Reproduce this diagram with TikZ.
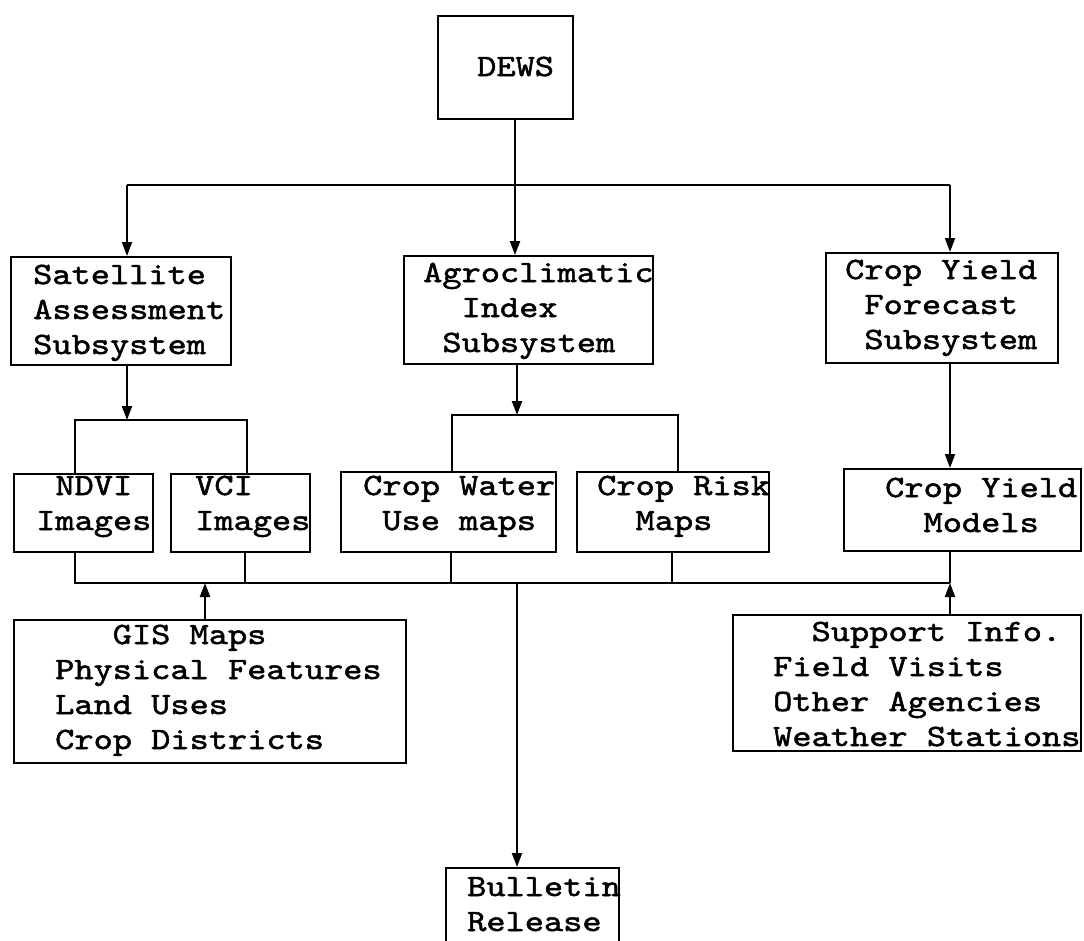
\documentclass[tikz,border=0pt]{standalone}
\usepackage{fontspec}
\newfontfamily\cour{lmmono10-regular.otf}[FakeStretch=1.18, BoldFont=lmmono10-regular.otf, BoldFeatures={FakeBold=1.6}]
\usetikzlibrary{arrows.meta}
\newcommand\sk[1]{\hspace*{#1\dimexpr 19.2pt\relax}}
\newcommand\tlines[1]{\begin{tabular}[t]{@{}l@{}}#1\end{tabular}}
\tikzset{
  box/.style={draw, line width=2.3pt, inner sep=0pt, anchor=north west},
  txt/.style={anchor=base west, inner sep=0pt, font=\cour\bfseries\fontsize{31}{35}\selectfont},
  ln/.style={line width=2.1pt},
  arr/.style={ln, -{Triangle[length=14pt,width=10pt]}},
}
\begin{document}
\begin{tikzpicture}[x=1pt,y=-1pt]
\useasboundingbox (0,0) rectangle (1084,940);
\clip (0,0) rectangle (1084,940);
% boxes
\node[box,minimum width=135pt,minimum height=103pt] (dews) at (437,15) {};
\node[box,minimum width=220pt,minimum height=108pt] (sat) at (10,256) {};
\node[box,minimum width=249pt,minimum height=108pt] (agro) at (403,255) {};
\node[box,minimum width=232pt,minimum height=110pt] (cyf) at (825,252) {};
\node[box,minimum width=139pt,minimum height=78pt] (ndvi) at (13,473) {};
\node[box,minimum width=139pt,minimum height=78pt] (vci) at (170,473) {};
\node[box,minimum width=215pt,minimum height=80pt] (cw) at (340,471) {};
\node[box,minimum width=192pt,minimum height=80pt] (cr) at (576,471) {};
\node[box,minimum width=237pt,minimum height=82pt] (cym) at (843,468) {};
\node[box,minimum width=392pt,minimum height=143pt] (gis) at (13,619) {};
\node[box,minimum width=348pt,minimum height=136pt] (sup) at (732,614) {};
\node[box,minimum width=173pt,minimum height=100pt] (bul) at (445,867) {};
% texts
\node[txt] (dewsT) at (477,76) {DEWS};
\node[txt] (satT) at (33,284) {\tlines{Satellite\\Assessment\\Subsystem}};
\node[txt] (agroT) at (423,282) {\tlines{Agroclimatic\\\sk{2}Index\\\sk{1}Subsystem}};
\node[txt] (cyfT) at (845,279) {\tlines{Crop Yield\\\sk{1}Forecast\\\sk{1}Subsystem}};
\node[txt] (ndviT) at (36,495) {\tlines{\sk{1}NDVI\\Images}};
\node[txt] (vciT) at (195,495) {\tlines{VCI\\Images}};
\node[txt] (cwT) at (363,495) {\tlines{Crop Water\\\sk{1}Use maps}};
\node[txt] (crT) at (597,495) {\tlines{Crop Risk\\\sk{2}Maps}};
\node[txt] (cymT) at (885,497) {\tlines{Crop Yield\\\sk{2}Models}};
\node[txt] (gisT) at (55,644) {\tlines{\sk{3}GIS Maps\\Physical Features\\Land Uses\\Crop Districts}};
\node[txt] (supT) at (773,641) {\tlines{\sk{2}Support Info.\\Field Visits\\Other Agencies\\Weather Stations}};
\node[txt] (bulT) at (467,896) {\tlines{Bulletin\\Release}};
% junction coordinates
\coordinate (t0) at (515,185);
\coordinate (t1) at (127,185);
\coordinate (t3) at (950,185);
\coordinate (s0) at (127,420);
\coordinate (s1) at (75,420);
\coordinate (s2) at (247,420);
\coordinate (a0) at (517,415);
\coordinate (a1) at (452,415);
\coordinate (a2) at (678,415);
\coordinate (u1) at (75,583);
\coordinate (u2) at (245,583);
\coordinate (u3) at (451,583);
\coordinate (u4) at (672,583);
\coordinate (u5) at (950,583);
\coordinate (g0) at (205,583);
\coordinate (m0) at (517,583);
% top level
\draw[ln] (dews.south -| t0) -- (t0);
\draw[ln] (t1) -- (t3);
\draw[arr] (t1) -- (t1 |- sat.north);
\draw[arr] (t0) -- (t0 |- agro.north);
\draw[arr] (t3) -- (t3 |- cyf.north);
% satellite branch
\draw[arr] (s0 |- sat.south) -- (s0);
\draw[ln] (s1 |- ndvi.north) -- (s1) -- (s2) -- (s2 |- vci.north);
% agro branch
\draw[arr] (a0 |- agro.south) -- (a0);
\draw[ln] (a1 |- cw.north) -- (a1) -- (a2) -- (a2 |- cr.north);
% crop yield branch
\draw[arr] (t3 |- cyf.south) -- (t3 |- cym.north);
% bottom bus
\draw[ln] (u1 |- ndvi.south) -- (u1) -- (u5);
\draw[ln] (u2 |- vci.south) -- (u2);
\draw[ln] (u3 |- cw.south) -- (u3);
\draw[ln] (u4 |- cr.south) -- (u4);
\draw[ln] (u5 |- cym.south) -- (u5);
\draw[arr] (g0 |- gis.north) -- (g0);
\draw[arr] (u5 |- sup.north) -- (u5);
\draw[arr] (m0) -- (m0 |- bul.north);
\end{tikzpicture}
\end{document}
